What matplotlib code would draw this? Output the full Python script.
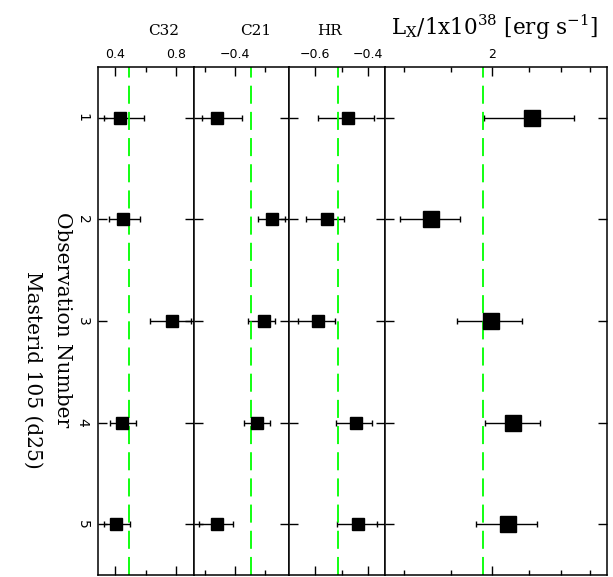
import numpy as np
import matplotlib
matplotlib.use("Agg")
import matplotlib.pyplot as plt
from matplotlib.ticker import MultipleLocator, FixedLocator, FixedFormatter, NullFormatter

plt.rcParams['mathtext.fontset'] = 'dejavuserif'

# observation index
obs = [1, 2, 3, 4, 5]

# colour C32 with error range
c32 = [0.434, 0.452, 0.769, 0.447, 0.408]
c32_lo = [0.328, 0.359, 0.628, 0.363, 0.324]
c32_hi = [0.590, 0.560, 0.894, 0.538, 0.498]

# colour C21
c21 = [-0.459, -0.278, -0.306, -0.326, -0.459]
c21_lo = [-0.510, -0.325, -0.358, -0.370, -0.519]
c21_hi = [-0.376, -0.235, -0.268, -0.285, -0.407]

# hardness ratio
hr = [-0.477, -0.555, -0.587, -0.447, -0.436]
hr_lo = [-0.590, -0.635, -0.665, -0.521, -0.518]
hr_hi = [-0.378, -0.492, -0.525, -0.385, -0.366]

# luminosity / 1e38
lx = [2.274, 1.642, 1.995, 2.142, 2.108]
lx_lo = [1.949, 1.484, 1.784, 1.953, 1.897]
lx_hi = [2.604, 1.803, 2.204, 2.332, 2.312]

# mean values (green dashed lines)
means = [0.488, -0.348, -0.514, 1.943]

W, H = 613, 577
fig = plt.figure(figsize=(W/100, H/100), dpi=100)

edges = [98, 194.3, 289.3, 384.7, 607]
top, bot = 67, 575
y0 = 1 - bot/H
hgt = (bot - top)/H

panels = [
    (c32, c32_lo, c32_hi, (0.287, 0.918), 8),
    (c21, c21_lo, c21_hi, (-0.534, -0.221), 8),
    (hr, hr_lo, hr_hi, (-0.697, -0.337), 8),
    (lx, lx_lo, lx_hi, (1.411, 2.902), 11),
]

axs = []
for i, (v, lo, hi, xl, ms) in enumerate(panels):
    ax = fig.add_axes([edges[i]/W, y0, (edges[i+1]-edges[i])/W, hgt])
    v = np.array(v); lo = np.array(lo); hi = np.array(hi)
    ax.errorbar(v, obs, xerr=[v-lo, hi-v], fmt='s', color='k', ms=ms,
                elinewidth=1.0, capsize=2, capthick=1.0, mec='k', mfc='k')
    ax.axvline(means[i], color=(0, 1, 0), lw=1.3, dashes=(10, 4.5))
    if i == 3:
        ax.set_xscale('log')
    ax.set_xlim(xl)
    ax.set_ylim(5.5, 0.5)
    for s in ax.spines.values():
        s.set_linewidth(1.1)
    ax.yaxis.set_major_locator(FixedLocator(obs))
    ax.tick_params(axis='both', which='both', direction='in', top=True, bottom=True,
                   left=True, right=True, labeltop=True, labelbottom=False,
                   labelleft=(i == 0), width=1.0, labelsize=9, pad=4)
    ax.tick_params(which='major', length=6.5)
    ax.tick_params(which='minor', length=3.5)
    ax.tick_params(axis='y', which='minor', left=False, right=False)
    axs.append(ax)

axs[0].xaxis.set_major_locator(MultipleLocator(0.4))
axs[0].xaxis.set_minor_locator(MultipleLocator(0.2))
axs[1].xaxis.set_major_locator(MultipleLocator(0.4))
axs[1].xaxis.set_minor_locator(MultipleLocator(0.1))
axs[2].xaxis.set_major_locator(MultipleLocator(0.2))
axs[2].xaxis.set_minor_locator(MultipleLocator(0.1))
axs[3].xaxis.set_major_locator(FixedLocator([2]))
axs[3].xaxis.set_major_formatter(FixedFormatter(['2']))
axs[3].xaxis.set_minor_locator(FixedLocator([1.5, 1.75, 2.25, 2.5, 2.75]))
axs[3].xaxis.set_minor_formatter(NullFormatter())

axs[0].tick_params(axis='y', pad=6)
for lab in axs[0].get_yticklabels():
    lab.set_rotation(270)
    lab.set_fontsize(10)
    lab.set_va('center')

fig.text(164/W, 1 - 31/H, 'C32', family='DejaVu Serif', fontsize=11, ha='center', va='center')
fig.text(256/W, 1 - 31/H, 'C21', family='DejaVu Serif', fontsize=11, ha='center', va='center')
fig.text(330/W, 1 - 31/H, 'HR', family='DejaVu Serif', fontsize=11, ha='center', va='center')
fig.text(495/W, 1 - 27/H, r'L$_{\rm X}$/1x10$^{38}$ [erg s$^{-1}$]', family='DejaVu Serif',
         fontsize=15.5, ha='center', va='center')

fig.text(62/W, 1 - 320/H, 'Observation Number', family='DejaVu Serif', fontsize=14.5,
         rotation=270, ha='center', va='center')
fig.text(33/W, 1 - 370/H, 'Masterid 105 (d25)', family='DejaVu Serif', fontsize=14.5,
         rotation=270, ha='center', va='center')

fig.savefig('out.png', dpi=100)
